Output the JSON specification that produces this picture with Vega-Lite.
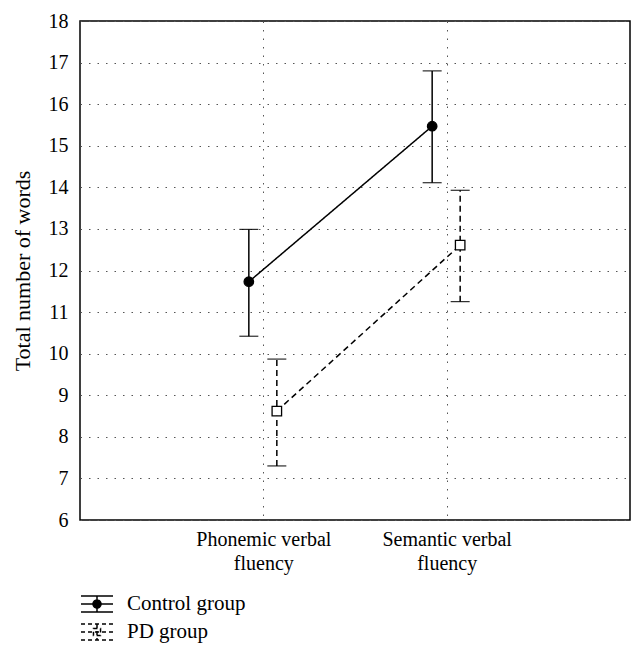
{
  "$schema": "https://vega.github.io/schema/vega-lite/v6.json",
  "width": 550,
  "height": 499,
  "padding": {"left": 11, "top": 11, "right": 10, "bottom": 5},
  "background": "white",
  "data": {
    "values": [
      {"task": "Phonemic verbal fluency", "group": "Control group", "mean": 11.73, "lower": 10.42, "upper": 12.99},
      {"task": "Semantic verbal fluency", "group": "Control group", "mean": 15.47, "lower": 14.11, "upper": 16.8},
      {"task": "Phonemic verbal fluency", "group": "PD group", "mean": 8.62, "lower": 7.3, "upper": 9.87},
      {"task": "Semantic verbal fluency", "group": "PD group", "mean": 12.61, "lower": 11.25, "upper": 13.93}
    ]
  },
  "encoding": {
    "x": {
      "field": "task", "type": "nominal", "sort": null,
      "scale": {"type": "point", "padding": 1},
      "axis": {
        "title": null, "labelAngle": 0, "ticks": false, "domain": false,
        "labelPadding": 9, "labelLineHeight": 24, "labelFontSize": 20,
        "labelExpr": "[replace(datum.label, ' fluency', ''), 'fluency']",
        "grid": true
      }
    },
    "xOffset": {
      "field": "group", "type": "nominal",
      "scale": {"type": "point", "padding": 0, "domain": ["Control group", "PD group"], "range": [-14.5, 13.5]}
    }
  },
  "layer": [
    {
      "mark": {"type": "line", "color": "black", "strokeWidth": 1.5},
      "encoding": {
        "y": {
          "field": "mean", "type": "quantitative",
          "scale": {"domain": [6, 18], "nice": false, "zero": false},
          "axis": {
            "title": "Total number of words", "values": [6,7,8,9,10,11,12,13,14,15,16,17,18],
            "ticks": false, "domain": false, "labelPadding": 12, "titlePadding": 14, "grid": true,
            "labelFontSize": 20, "titleFontSize": 22
          }
        },
        "detail": {"field": "group"},
        "strokeDash": {
          "condition": {"test": "datum.group == 'PD group'", "value": [6, 4]},
          "value": [1, 0]
        }
      }
    },
    {
      "mark": {"type": "rule", "color": "black", "strokeWidth": 1.5},
      "encoding": {
        "y": {"field": "lower", "type": "quantitative"},
        "y2": {"field": "upper"},
        "strokeDash": {
          "condition": {"test": "datum.group == 'PD group'", "value": [6, 4]},
          "value": [1, 0]
        }
      }
    },
    {
      "mark": {"type": "tick", "color": "black", "strokeWidth": 1.5, "size": 19, "orient": "horizontal", "opacity": 1},
      "encoding": {
        "y": {"field": "lower", "type": "quantitative"},
        "strokeDash": {
          "condition": {"test": "datum.group == 'PD group'", "value": [6, 4]},
          "value": [1, 0]
        }
      }
    },
    {
      "mark": {"type": "tick", "color": "black", "strokeWidth": 1.5, "size": 19, "orient": "horizontal", "opacity": 1},
      "encoding": {
        "y": {"field": "upper", "type": "quantitative"},
        "strokeDash": {
          "condition": {"test": "datum.group == 'PD group'", "value": [6, 4]},
          "value": [1, 0]
        }
      }
    },
    {
      "mark": {"type": "point", "filled": true, "stroke": "black", "strokeWidth": 1.3, "opacity": 1, "size": 90},
      "encoding": {
        "y": {"field": "mean", "type": "quantitative"},
        "fill": {
          "condition": {"test": "datum.group == 'Control group'", "value": "black"},
          "value": "white"
        },
        "shape": {
          "condition": {"test": "datum.group == 'Control group'", "value": "circle"},
          "value": "square"
        }
      }
    },
    {
      "transform": [{"filter": "false"}],
      "mark": {"type": "point", "filled": false, "strokeWidth": 1.5, "opacity": 1},
      "encoding": {
        "y": {"field": "mean", "type": "quantitative"},
        "shape": {
          "field": "group", "type": "nominal",
          "scale": {
            "domain": ["Control group", "PD group"],
            "range": [
              "M-1,-0.5H1M-1,0H1M-1,0.5H1M0,-0.5V0.5M-0.25,0A0.25,0.25 0 1,1 0.25,0A0.25,0.25 0 1,1 -0.25,0Z",
              "M-1,-0.5H1M-1,0H1M-1,0.5H1M0,-0.5V0.5M-0.22,-0.22H0.22V0.22H-0.22Z"
            ]
          },
          "legend": {
            "title": null, "orient": "bottom", "direction": "vertical",
            "symbolSize": 1024, "rowPadding": -4, "labelOffset": 13, "offset": 14,
            "symbolStrokeWidth": 1.5, "symbolOpacity": 1
          }
        },
        "fill": {
          "field": "group", "type": "nominal",
          "scale": {"domain": ["Control group", "PD group"], "range": ["black", "white"]}
        },
        "stroke": {
          "field": "group", "type": "nominal",
          "scale": {"domain": ["Control group", "PD group"], "range": ["black", "black"]}
        },
        "strokeDash": {
          "field": "group", "type": "nominal",
          "scale": {"domain": ["Control group", "PD group"], "range": [[1, 0], [4, 3]]}
        }
      }
    }
  ],
  "config": {
    "font": "Liberation Serif",
    "view": {"stroke": "black", "strokeWidth": 1.5},
    "axis": {
      "labelFont": "Liberation Serif", "labelFontSize": 20, "labelColor": "black",
      "titleFont": "Liberation Serif", "titleFontSize": 22, "titleFontWeight": "normal", "titleColor": "black",
      "gridColor": "#555", "gridDash": [1.5, 7], "gridWidth": 1, "gridOpacity": 1
    },
    "legend": {
      "labelFont": "Liberation Serif", "labelFontSize": 21, "labelColor": "black", "labelLimit": 300
    }
  }
}
